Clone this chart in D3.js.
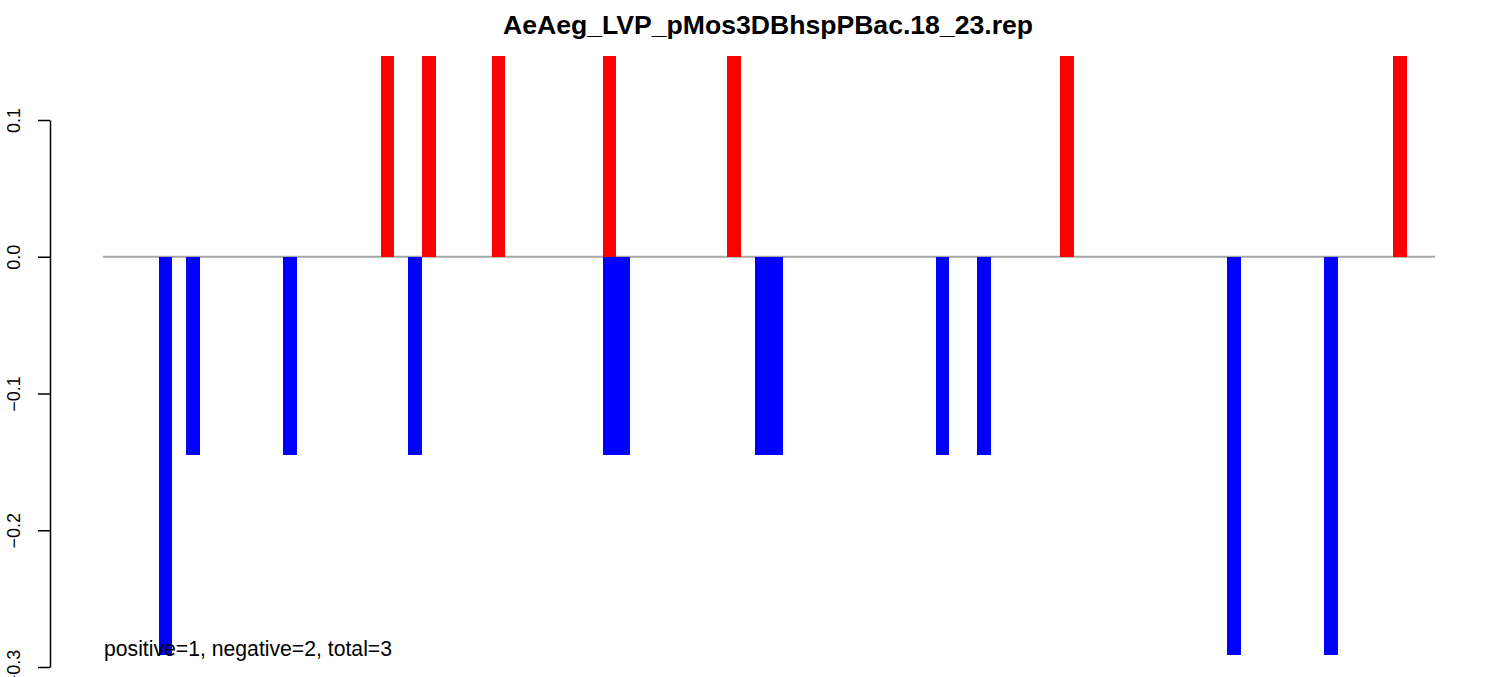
<!DOCTYPE html>
<html>
<head>
<meta charset="utf-8">
<script src="https://cdn.jsdelivr.net/npm/d3@7"></script>
<style>
  html, body { margin: 0; padding: 0; background: #fff; }
  svg { display: block; }
  text { font-family: "Liberation Sans", Arial, Helvetica, sans-serif; }
</style>
</head>
<body>
<svg id="chart" width="1506" height="677"></svg>
<script>
// ---- data ----
const title = "AeAeg_LVP_pMos3DBhspPBac.18_23.rep";
const note = "positive=1, negative=2, total=3";
const positivePos = [16, 19, 24, 32, 41, 65, 89];
const positiveVal = [0.1465, 0.1465, 0.1465, 0.1465, 0.1465, 0.1465, 0.1465];
const negativePos = [0, 2, 9, 18, 32, 33, 43, 44, 56, 59, 77, 84];
const negativeVal = [-0.291, -0.1453, -0.1453, -0.1453, -0.1453, -0.1453, -0.1453, -0.1453, -0.1453, -0.1453, -0.291, -0.291];
const yTicks = [0.1, 0.0, -0.1, -0.2, -0.3];
const yTickLabels = ["0.1", "0.0", "\u22120.1", "\u22120.2", "\u22120.3"];
const slotDomain = [-4, 92];

// ---- layout ----
const svg = d3.select("#chart");
const x = d3.scaleLinear().domain(slotDomain).range([103, 1435]);
const y = d3.scaleLinear().domain([-0.3, 0.1]).range([667, 120]);
const bw = x(1) - x(0);

// baseline
svg.append("line")
  .attr("x1", x(slotDomain[0])).attr("x2", x(slotDomain[1]))
  .attr("y1", y(0)).attr("y2", y(0))
  .attr("stroke", "#a6a6a6").attr("stroke-width", 2);

const pos = positivePos.map((p, i) => ({p, v: positiveVal[i]}));
const neg = negativePos.map((p, i) => ({p, v: negativeVal[i]}));

svg.append("g").selectAll("rect").data(pos).join("rect")
  .attr("x", d => x(d.p)).attr("width", bw)
  .attr("y", d => y(d.v)).attr("height", d => y(0) - y(d.v))
  .attr("fill", "#ff0000").attr("shape-rendering", "crispEdges");

svg.append("g").selectAll("rect").data(neg).join("rect")
  .attr("x", d => x(d.p)).attr("width", bw)
  .attr("y", d => y(0)).attr("height", d => y(d.v) - y(0))
  .attr("fill", "#0000ff").attr("shape-rendering", "crispEdges");

// y axis
const axis = d3.axisLeft(y).tickValues(yTicks).tickSize(12).tickSizeOuter(0)
  .tickFormat((d, i) => yTickLabels[i]);
const ag = svg.append("g").attr("transform", "translate(50,0)").call(axis);
ag.select(".domain").attr("stroke", "#000").attr("stroke-width", 1.5);
ag.selectAll(".tick line").attr("stroke", "#000").attr("stroke-width", 1.5);
ag.selectAll(".tick text")
  .attr("font-size", 18).attr("fill", "#000")
  .attr("x", null).attr("dy", null)
  .attr("text-anchor", "middle")
  .attr("transform", "translate(-30,0) rotate(-90)");

// title
svg.append("text")
  .attr("x", 768).attr("y", 34)
  .attr("text-anchor", "middle")
  .attr("font-weight", "bold").attr("font-size", 26.6)
  .text(title);

// note
svg.append("text")
  .attr("x", 104).attr("y", 656)
  .attr("font-size", 21.2)
  .text(note);
</script>
</body>
</html>
